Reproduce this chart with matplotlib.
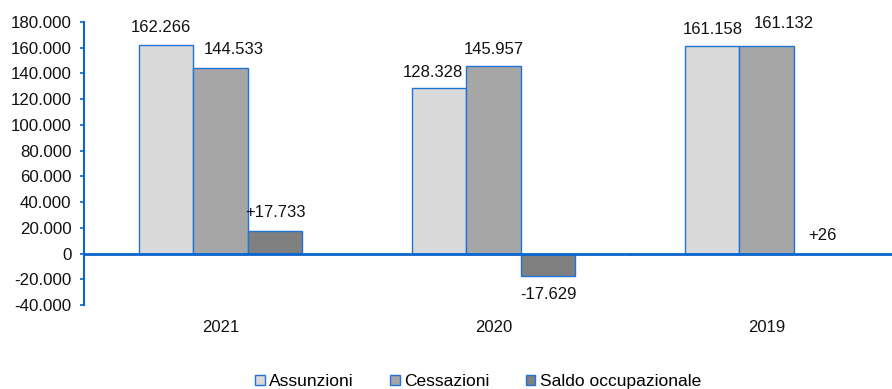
import numpy as np
import matplotlib
matplotlib.use("Agg")
import matplotlib.pyplot as plt
from matplotlib.patches import Patch

plt.rcParams['font.family'] = ['Liberation Sans', 'DejaVu Sans']

years = ['2021', '2020', '2019']
assunzioni = [162266, 128328, 161158]
cessazioni = [144533, 145957, 161132]
saldo = [17733, -17629, 26]

series_names = ['Assunzioni', 'Cessazioni', 'Saldo occupazionale']
colors = ['#d9d9d9', '#a6a6a6', '#808080']
blue = '#0a66cc'

# nudges (pixels) for the value labels, per series and year
label_dx = [[-5, -6, 1], [13, 0, 17], [0, 0, 1]]
label_dy = [[17, 16, 17], [18, 16, 23], [18, 18, 18]]


def fmt(v, sign=False):
    s = '{:,}'.format(abs(v)).replace(',', '.')
    if v < 0:
        return '-' + s
    return ('+' + s) if sign else s


fig = plt.figure(figsize=(8.92, 3.89), dpi=100)
# axis runs a little past the right edge of the figure
ax = fig.add_axes([84 / 892, 84 / 389, 819 / 892, 283 / 389])

x = np.arange(len(years))
w = 0.2
data = [assunzioni, cessazioni, saldo]
for i, (vals, col) in enumerate(zip(data, colors)):
    pos = x + (i - 1) * w
    ax.bar(pos, vals, width=w, color=col, edgecolor='#1f74d6', linewidth=1.0, zorder=2)
    for j, (px, v) in enumerate(zip(pos, vals)):
        dy = label_dy[i][j] if v >= 0 else -label_dy[i][j]
        ax.annotate(fmt(v, sign=(i == 2)), (px, v), xytext=(label_dx[i][j], dy),
                    textcoords='offset pixels', ha='center', va='center',
                    fontsize=12, color='#111111')

ax.set_xlim(-0.5, 2.5)
ax.set_ylim(-40000, 180000)
ax.set_yticks(np.arange(-40000, 180001, 20000))
ax.set_yticklabels([fmt(t) for t in range(-40000, 180001, 20000)])

for s in ['top', 'right', 'bottom']:
    ax.spines[s].set_visible(False)
ax.spines['left'].set_color(blue)
ax.spines['left'].set_linewidth(1.5)
ax.tick_params(axis='y', colors=blue, length=3, width=1.2, labelsize=12.2,
               labelcolor='#111111', pad=6)

# zero line with small ticks between the year groups
ax.axhline(0, color=blue, linewidth=2, zorder=3)
ax.vlines(x[:-1] + 0.5, -1800, 0, color=blue, linewidth=1.2, zorder=3)

ax.set_xticks(x)
ax.set_xticklabels(years)
ax.tick_params(axis='x', length=0, labelsize=12, labelcolor='#111111', pad=11)

handles = [Patch(facecolor=c, edgecolor='#1f74d6', linewidth=1.0) for c in colors]
fig.legend(handles, series_names, loc='lower center', bbox_to_anchor=(478 / 892, -0.04),
           ncol=3, frameon=False, fontsize=12.5, handlelength=0.55, handleheight=0.55,
           handletextpad=0.25, columnspacing=2.1)

fig.savefig('out.png', dpi=100)
